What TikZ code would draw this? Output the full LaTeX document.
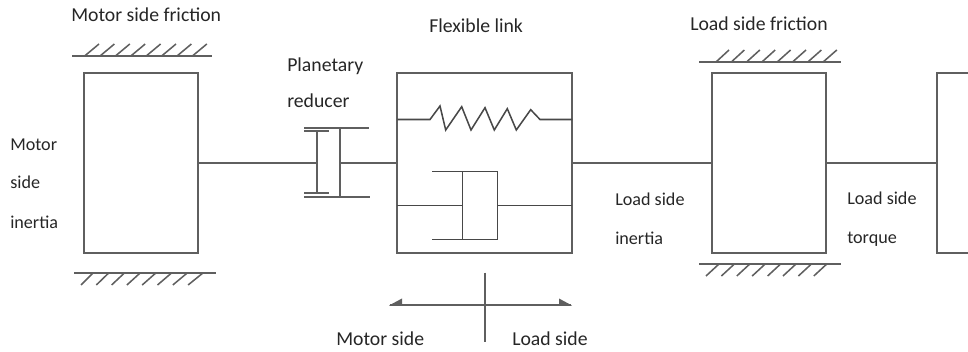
\documentclass[tikz,border=0pt]{standalone}
\usepackage{fontspec}
\setmainfont{Carlito}
\usetikzlibrary{arrows.meta}
\definecolor{ln}{HTML}{5F5F5F}
\definecolor{lnd}{HTML}{484848}
\definecolor{tx}{HTML}{262626}
\tikzset{
  lbl/.style={anchor=base west,inner sep=0pt,text=tx,font=\fontsize{14.8pt}{16pt}\selectfont},
  lbls/.style={lbl,font=\fontsize{13.6pt}{15pt}\selectfont},
  blockbox/.style={draw=ln,line width=1.5pt,inner sep=0pt,minimum width=85.5pt,minimum height=134.6pt},
  linkbox/.style={draw=ln,line width=1.5pt,inner sep=0pt,minimum width=131.2pt,minimum height=134.6pt},
  shaft/.style={draw=ln,line width=1.5pt},
  thin part/.style={draw=lnd,line width=1.15pt},
  ground/.style={draw=ln,line width=1.5pt},
  hatch/.style={draw=ln,line width=1.15pt},
  axis/.style={draw=ln,line width=1.4pt},
}
\begin{document}
\begin{tikzpicture}[x=0.75pt,y=-0.75pt]
\useasboundingbox (0,0) rectangle (968,352);
% blocks
\node[blockbox] (motor) at (140.5,163) {};
\node[blockbox] (load) at (769,163) {};
\node[linkbox] (link) at (484.8,163) {};
\coordinate (end) at (937,163);
\draw[shaft] (968,73.3) -- (937,73.3) -- (937,252.7) -- (968,252.7);
% grounds
\coordinate (g1a) at (72,55.7); \coordinate (g1b) at (212,55.7);
\draw[ground] (g1a) -- (g1b);
\foreach \i in {0,...,7} \draw[hatch] ({85+15.4*\i},55.7) -- ({99+15.4*\i},44);
\coordinate (g2a) at (74,273); \coordinate (g2b) at (216,273);
\draw[ground] (g2a) -- (g2b);
\foreach \i in {0,...,7} \draw[hatch] ({93+15.7*\i},273) -- ({81+15.3*\i},285);
\coordinate (g3a) at (699,62); \coordinate (g3b) at (841,62);
\draw[ground] (g3a) -- (g3b);
\foreach \i in {0,...,7} \draw[hatch] ({716+15.3*\i},62) -- ({729+15.4*\i},50);
\coordinate (g4a) at (699,264); \coordinate (g4b) at (841,264);
\draw[ground] (g4a) -- (g4b);
\foreach \i in {0,...,7} \draw[hatch] ({719+15.4*\i},264) -- ({706+15.4*\i},276);
% reducer
\coordinate (rl) at (316.7,163);
\coordinate (rr) at (340,163);
\draw[shaft] (304,128.3) -- (369,128.3);
\draw[shaft] (304,130.6) -- (329,130.6);
\draw[shaft] (304,196.7) -- (370,196.7);
\draw[shaft] (304,193) -- (329,193);
\draw[shaft] (316.7,130.6) -- (316.7,193);
\draw[shaft] (340,128.3) -- (340,196.7);
% shafts
\draw[shaft] (motor.east) -- (rl);
\draw[shaft] (rr) -- (link.west);
\draw[shaft] (link.east) -- (load.west);
\draw[shaft] (load.east) -- (end);
% spring
\coordinate (sl) at (397.3,119.5);
\coordinate (sr) at (572.3,119.5);
\draw[thin part,line join=miter] (sl) -- (430,119.5) -- (440,106) -- (445.7,130) -- (461.7,106.7) -- (471,130) -- (485,107.7) -- (494.3,130) -- (507.3,108.7) -- (516.3,130) -- (530.7,109.7) -- (540,119.5) -- (sr);
% damper
\coordinate (dl) at (397.3,205.5);
\coordinate (dr) at (572.3,205.5);
\draw[thin part] (432.3,171.5) -- (497.5,171.5) -- (497.5,239.5) -- (432.3,239.5);
\draw[thin part] (462.5,171.5) -- (462.5,239.5);
\draw[thin part] (dl) -- (462.5,205.5);
\draw[thin part] (497.5,205.5) -- (dr);
% axis
\coordinate (al) at (390,304.7);
\coordinate (ar) at (571,304.7);
\coordinate (at) at (485.3,272.7);
\coordinate (ab) at (485.3,341.7);
\draw[axis] (at) -- (ab);
\draw[axis] (al) -- (ar);
\fill[ln] (389,305.5) -- (402,298.5) -- (402,306) -- cycle;
\fill[ln] (572,305.5) -- (559,298.5) -- (559,306) -- cycle;
% labels
\node[lbl] (t1) at (71,22) {Motor side friction};
\node[lbl] (t2) at (429,32.3) {Flexible link};
\node[lbl] (t3) at (690,31) {Load side friction};
\node[lbl] (t4) at (287,72) {Planetary};
\node[lbl] (t5) at (287,108) {reducer};
\node[lbls] (t6) at (10,150.7) {Motor};
\node[lbls] (t7) at (10,189) {side};
\node[lbls] (t8) at (10,228.5) {inertia};
\node[lbls] (t9) at (615,206) {Load side};
\node[lbls] (t10) at (615,244.5) {inertia};
\node[lbls] (t11) at (847,205) {Load side};
\node[lbls] (t12) at (847,243.5) {torque};
\node[lbl] (t13) at (336,346) {Motor side};
\node[lbl] (t14) at (512,346) {Load side};
\end{tikzpicture}
\end{document}
